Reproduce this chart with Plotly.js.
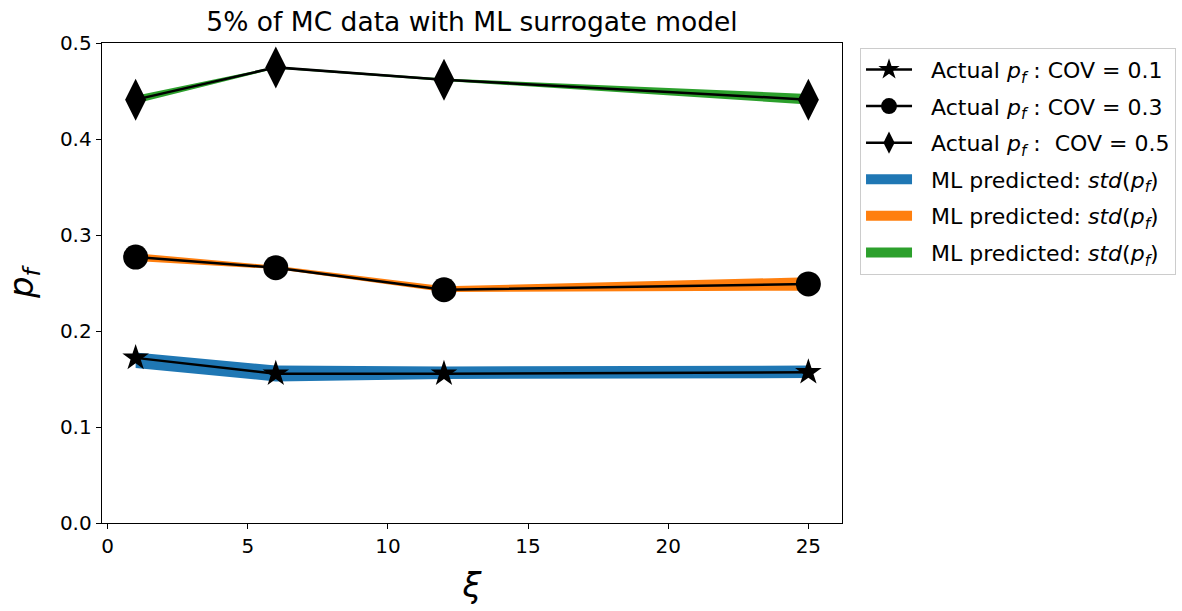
<!DOCTYPE html>
<html>
<head>
<meta charset="utf-8">
<script src="https://cdn.plot.ly/plotly-3.0.1.min.js"></script>
<style>html,body{margin:0;padding:0;background:#fff;}</style>
</head>
<body>
<div id="chart" style="width:1182px;height:611px;"></div>
<script>
// Correlation length values
const xi = [1, 6, 12, 25];

// Actual failure probability from Monte Carlo, per coefficient of variation
const pfCov01 = [0.172, 0.1555, 0.1555, 0.157];
const pfCov03 = [0.277, 0.266, 0.243, 0.249];
const pfCov05 = [0.441, 0.4746, 0.4618, 0.441];

// ML surrogate prediction bands (mean ± std)
const mlLow01 = [0.1615, 0.1475, 0.150, 0.151];
const mlHigh01 = [0.1777, 0.164, 0.163, 0.164];
const mlLow03 = [0.273, 0.2645, 0.2405, 0.242];
const mlHigh03 = [0.281, 0.268, 0.2465, 0.256];
const mlLow05 = [0.437, 0.4735, 0.4605, 0.436];
const mlHigh05 = [0.445, 0.4755, 0.4630, 0.447];

const bandColors = ['#1f77b4', '#ff7f0e', '#2ca02c'];

const pf = '<i>p</i><sub><i>f</i></sub>';
const pad = '&nbsp;&nbsp;';
const bandName = pad + 'ML predicted: <i>std</i>(' + pf + ')';

// Shaded band between lower and upper prediction
function band(lo, hi, color) {
  return {
    x: xi.concat(xi.slice().reverse()),
    y: hi.concat(lo.slice().reverse()),
    type: 'scatter', mode: 'none', fill: 'toself', fillcolor: color,
    showlegend: false, hoverinfo: 'skip'
  };
}

// Legend patch for a band (thick swatch, no data points)
function bandKey(color, rank) {
  return {
    x: [null], y: [null], type: 'scatter', mode: 'lines',
    line: {color: color, width: 10},
    name: bandName, legendrank: rank, legendgroup: 'g' + rank
  };
}

function actual(y, label, symbol, size, rank) {
  return {
    x: xi, y: y, type: 'scatter', mode: 'lines+markers',
    line: {color: 'black', width: 2.5},
    marker: {symbol: symbol, size: size, color: 'black'},
    name: pad + label, legendrank: rank, legendgroup: 'g' + rank
  };
}

const traces = [
  band(mlLow01, mlHigh01, bandColors[0]),
  band(mlLow03, mlHigh03, bandColors[1]),
  band(mlLow05, mlHigh05, bandColors[2]),
  actual(pfCov01, 'Actual ' + pf + ' : COV = 0.1', 'star', 20, 1),
  actual(pfCov03, 'Actual ' + pf + ' : COV = 0.3', 'circle', 25, 2),
  actual(pfCov05, 'Actual ' + pf + ' :  COV = 0.5', 'diamond-tall', 30, 3),
  bandKey(bandColors[0], 4),
  bandKey(bandColors[1], 5),
  bandKey(bandColors[2], 6)
];

const layout = {
  width: 1182, height: 611,
  margin: {l: 102, r: 340, t: 43, b: 88, autoexpand: false},
  paper_bgcolor: '#fff', plot_bgcolor: '#fff',
  font: {family: 'DejaVu Sans', color: '#000', size: 20},
  title: {text: '5% of MC data with ML surrogate model', font: {size: 26.5},
          x: 0.5, xref: 'paper', xanchor: 'center', y: 0.964, yanchor: 'middle'},
  xaxis: {
    range: [-0.2, 26.2], dtick: 5, tick0: 0,
    showline: true, linecolor: '#000', linewidth: 1.3, mirror: true,
    ticks: 'outside', ticklen: 5, tickcolor: '#000', showgrid: false, zeroline: false,
    tickfont: {size: 20},
    title: {text: '<i>ξ</i>', font: {size: 34}, standoff: 16}
  },
  yaxis: {
    range: [0, 0.5], dtick: 0.1, tick0: 0, tickformat: '.1f',
    showline: true, linecolor: '#000', linewidth: 1.3, mirror: true,
    ticks: 'outside', ticklen: 5, tickcolor: '#000', showgrid: false, zeroline: false,
    tickfont: {size: 20},
    title: {text: pf, font: {size: 34}, standoff: 16}
  },
  showlegend: true,
  legend: {
    xref: 'container', yref: 'container',
    x: 0.7276, xanchor: 'left', y: 0.922, yanchor: 'top',
    bordercolor: '#cccccc', borderwidth: 1, bgcolor: '#fff',
    font: {size: 22}, traceorder: 'grouped', tracegroupgap: 5,
    itemwidth: 46
  }
};

Plotly.newPlot('chart', traces, layout, {displayModeBar: false, staticPlot: true});
</script>
</body>
</html>
